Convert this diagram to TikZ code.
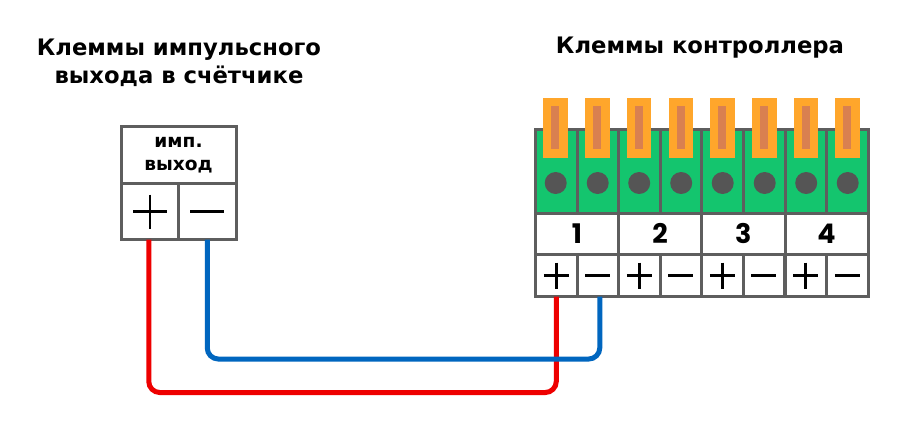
\documentclass[tikz,border=0pt]{standalone}
\usepackage{fontspec}
\usetikzlibrary{calc}
\setmainfont{DejaVu Sans}
\newfontfamily\digitfont{Poppins}
\definecolor{frame}{HTML}{5E5E5E}
\definecolor{termgreen}{HTML}{14C56E}
\definecolor{cliporange}{HTML}{FFA62B}
\definecolor{clipinner}{HTML}{D98050}
\definecolor{screwgray}{HTML}{555555}
\definecolor{wirered}{HTML}{EE0000}
\definecolor{wireblue}{HTML}{0066BF}
\tikzset{
  heading/.style={font=\bfseries\fontsize{22.7}{28}\selectfont,align=center,text=black,inner sep=0pt},
  boxtext/.style={font=\bfseries\fontsize{18.6}{23}\selectfont,align=center,text=black,inner sep=0pt},
  numtext/.style={font=\digitfont\bfseries\fontsize{27}{27}\selectfont,text=black},
  cell/.style={draw=frame,line width=3pt,fill=white,rectangle,inner sep=0pt,outer sep=0pt,anchor=north west},
  greencell/.style={cell,fill=termgreen},
  clipbody/.style={fill=cliporange,draw=none,rectangle,inner sep=0pt,minimum width=24.4pt,minimum height=59.5pt,anchor=north west},
  clipcore/.style={fill=clipinner,draw=none,rectangle,inner sep=0pt,minimum width=8pt,minimum height=43pt},
  screw/.style={fill=screwgray,draw=none,circle,inner sep=0pt,minimum size=22pt},
  sign/.style={line width=2.6pt,black},
  wire/.style={line width=5pt,rounded corners=11pt},
}
\begin{document}
\begin{tikzpicture}[x=1pt,y=-1pt]
\useasboundingbox (0,0) rectangle (924,429);
\fill[white] (0,0) rectangle (924,429);
% headings
\node[heading] (headleft) at (179,62.5) {Клеммы импульсного\\выхода в счётчике};
\node[heading] (headright) at (700,48) {Клеммы контроллера};
% left box
\node[cell,minimum width=115pt,minimum height=57pt] (imp) at (121,126.5) {};
\node[boxtext] (imptext) at (178.5,155.5) {имп.\\выход};
\node[cell,minimum width=57.5pt,minimum height=56pt] (lplus) at (121,183.5) {};
\node[cell,minimum width=57.5pt,minimum height=56pt] (lminus) at (178.5,183.5) {};
\draw[sign] (133,211.5) -- (167,211.5) (150,194.5) -- (150,228.5);
\draw[sign] (190,211.5) -- (224,211.5);
% controller
\foreach \i/\x/\cx in {1/535.5/543,2/577/585,3/618.5/626.5,4/660/668.5,5/701.5/710,6/743.5/752,7/785/793.5,8/826.5/835}{
  \node[greencell,minimum width=41.5pt,minimum height=83.5pt] (g\i) at (\x,129.5) {};
  \node[clipbody] (c\i) at (\cx,98) {};
  \node[clipcore] (k\i) at (c\i.center) {};
  \node[screw] (s\i) at ($(\cx,183)+(12.7,0)$) {};
}
\foreach \i/\x/\w/\t in {1/535.5/83/1,2/618.5/83/2,3/701.5/83.5/3,4/785/83/4}{
  \node[cell,minimum width=\w pt,minimum height=41.5pt] (n\i) at (\x,213) {};
  \node[numtext] (t\i) at (n\i.center) {\t};
}
\foreach \i/\x in {1/535.5,2/618.5,3/701.5,4/785}{
  \node[cell,minimum width=41.5pt,minimum height=42pt] (p\i) at (\x,254.5) {};
  \node[cell,minimum width=41.5pt,minimum height=42pt] (m\i) at ($(\x,254.5)+(41.5,0)$) {};
  \draw[sign] ($(p\i.center)+(-12.5,0)$) -- ($(p\i.center)+(12.5,0)$)
              ($(p\i.center)+(0,-13)$) -- ($(p\i.center)+(0,13)$);
  \draw[sign] ($(m\i.center)+(-12.5,0)$) -- ($(m\i.center)+(12.5,0)$);
}
% wires
\coordinate (redlow) at (350,392.5);
\coordinate (bluelow) at (400,359);
\coordinate (bluein) at ($(m1.south)+(2,0)$);
\coordinate (redstart) at ($(lplus.south)+(-1,0)$);
\draw[wire,wirered] (redstart) |- (redlow) -| (p1.south);
\draw[wire,wireblue] (lminus.south) |- (bluelow) -| (bluein);
\end{tikzpicture}
\end{document}
